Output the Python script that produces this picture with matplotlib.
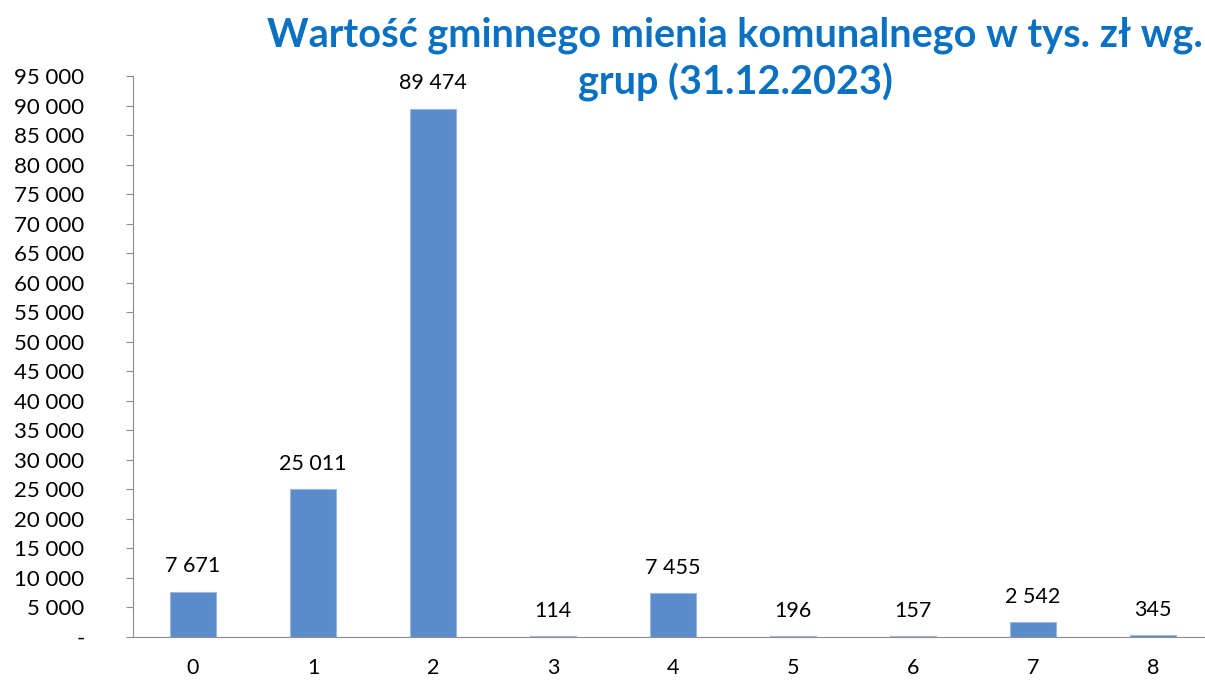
import matplotlib.pyplot as plt
from matplotlib.ticker import FuncFormatter
import numpy as np

# data
groups = ['0', '1', '2', '3', '4', '5', '6', '7', '8']
values = [7671, 25011, 89474, 114, 7455, 196, 157, 2542, 345]
title_lines = ['Wartość gminnego mienia komunalnego w tys. zł wg.', 'grup (31.12.2023)']

plt.rcParams['font.family'] = ['Lato', 'DejaVu Sans']


def fmt_thousands(v, pos=None):
    v = int(round(v))
    if v == 0:
        return '-'
    return f'{v:,}'.replace(',', ' ')


fig = plt.figure(figsize=(12.05, 6.82), dpi=100)
ax = fig.add_axes([133 / 1205, 45 / 682, 1080 / 1205, 561 / 682])

x = np.arange(len(groups))
ax.bar(x, values, width=0.39, color='#5B8BCB', edgecolor='#9BB8E0', linewidth=0.8)

for xi, v in zip(x, values):
    ax.annotate(fmt_thousands(v), (xi, v), xytext=(0, 11), textcoords='offset points',
                ha='center', va='bottom', fontsize=15.5, color='black')

ax.set_xlim(-0.5, len(groups) - 0.5)
ax.set_ylim(0, 95000)
ax.set_yticks(np.arange(0, 95001, 5000))
ax.yaxis.set_major_formatter(FuncFormatter(fmt_thousands))
ax.set_xticks(x)
ax.set_xticklabels(groups)

for side in ['top', 'right']:
    ax.spines[side].set_visible(False)
ax.spines['left'].set_color('#8c8c8c')
ax.spines['bottom'].set_color('#8c8c8c')
ax.tick_params(axis='y', length=5, color='#8c8c8c', labelsize=16, pad=30)
ax.tick_params(axis='x', length=0, labelsize=15.5, pad=15)

# title in two separate lines, like the reference
fig.text(0.61, 1 - 35 / 682, title_lines[0], ha='center', va='center', fontsize=28.5,
         fontweight='bold', color='#0A70C2')
fig.text(0.61, 1 - 82 / 682, title_lines[1], ha='center', va='center', fontsize=28.5,
         fontweight='bold', color='#0A70C2')

fig.savefig('out.png', dpi=100)
